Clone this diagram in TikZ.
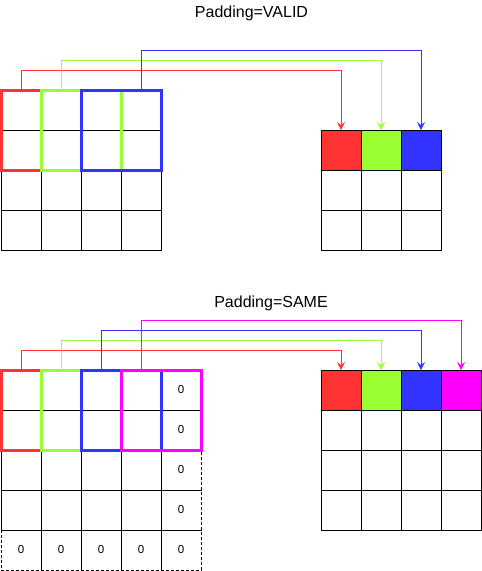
\documentclass[tikz,border=0pt]{standalone}
\usepackage{fontspec}
\setmainfont{Liberation Sans}
\usetikzlibrary{arrows.meta}
\definecolor{winred}{HTML}{FF3333}
\definecolor{wingreen}{HTML}{99FF33}
\definecolor{winblue}{HTML}{3333FF}
\definecolor{winmag}{HTML}{FF00FF}

\begin{document}
\begin{tikzpicture}[x=1pt,y=-1pt]
  \tikzset{cell/.style = {draw, line width=1pt, minimum size=40pt, inner sep=0pt, outer sep=0pt, font=\fontsize{11.5}{13}\selectfont}}
  \tikzset{padcell/.style = {cell, dash pattern=on 3pt off 2pt}}
  \tikzset{window/.style = {line width=3pt}}
  \tikzset{link/.style = {line width=1pt, -{Stealth[length=8pt,width=8pt,inset=3pt]}}}
  \tikzset{title/.style = {anchor=base, inner sep=0pt, font=\fontsize{16}{18}\selectfont}}

\useasboundingbox (0,0) rectangle (482,571);

% Padding=VALID
\node[title] (validtitle) at (251.5,17.3) {Padding=VALID};

\foreach \r in {1,...,4}
  \foreach \c in {1,...,4}
    \node[cell] (t\r\c) at ({21+40*(\c-1)},{110+40*(\r-1)}) {};

\foreach \r in {1,...,3}
  \foreach \c in {1,...,3}
    \node[cell] (u\r\c) at ({341+40*(\c-1)},{150+40*(\r-1)}) {};
\node[cell, fill=winred] (u11) at (341,150) {};
\node[cell, fill=wingreen] (u12) at (381,150) {};
\node[cell, fill=winblue] (u13) at (421,150) {};

  \draw[window, winred] (t11.north west) rectangle (t22.south east);
  \draw[window, wingreen] (t12.north west) rectangle (t23.south east);
  \draw[window, winblue] (t13.north west) rectangle (t24.south east);

    \draw[link, winred] (t11.north) -- ++(0,-20) -| (u11.north);
    \draw[link, wingreen] (t12.north) -- ++(0,-30) -| (u12.north);
    \draw[link, winblue] (t14.north) -- ++(0,-40) -| (u13.north);

% Padding=SAME
\node[title] (sametitle) at (271,307.3) {Padding=SAME};

\foreach \r in {1,...,5}
  \node[padcell] (b\r5) at (181,{390+40*(\r-1)}) {0};
\foreach \c in {1,...,4}
  \node[padcell] (b5\c) at ({21+40*(\c-1)},550) {0};
\foreach \r in {1,...,4}
  \foreach \c in {1,...,4}
    \node[cell] (b\r\c) at ({21+40*(\c-1)},{390+40*(\r-1)}) {};

\foreach \r in {1,...,4}
  \foreach \c in {1,...,4}
    \node[cell] (v\r\c) at ({341+40*(\c-1)},{390+40*(\r-1)}) {};
\node[cell, fill=winred] (v11) at (341,390) {};
\node[cell, fill=wingreen] (v12) at (381,390) {};
\node[cell, fill=winblue] (v13) at (421,390) {};
\node[cell, fill=winmag] (v14) at (461,390) {};

  \draw[window, winred] (b11.north west) rectangle (b22.south east);
  \draw[window, wingreen] (b12.north west) rectangle (b23.south east);
  \draw[window, winblue] (b13.north west) rectangle (b24.south east);
  \draw[window, winmag] (b14.north west) rectangle (b25.south east);

    \draw[link, winred] (b11.north) -- ++(0,-20) -| (v11.north);
    \draw[link, wingreen] (b12.north) -- ++(0,-30) -| (v12.north);
    \draw[link, winblue] (b13.north) -- ++(0,-40) -| (v13.north);
    \draw[link, winmag] (b14.north) -- ++(0,-50) -| (v14.north);

\end{tikzpicture}
\end{document}
